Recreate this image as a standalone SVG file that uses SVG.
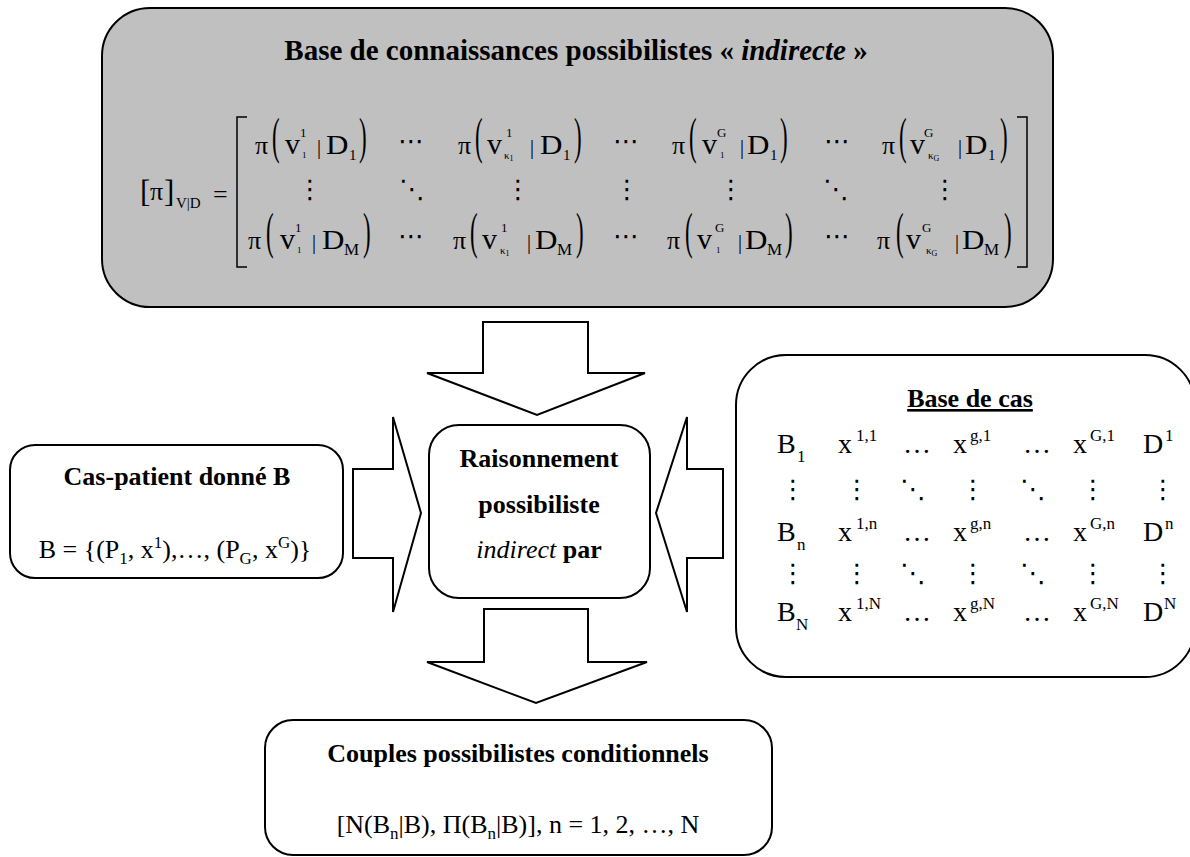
<svg xmlns="http://www.w3.org/2000/svg" width="1190" height="857" viewBox="0 0 1190 857">
<style>
.box{fill:#fff;stroke:#000;stroke-width:2}
.gray{fill:#c0c0c0}
.arr{fill:#fff;stroke:#000;stroke-width:2;stroke-linejoin:miter}
text{font-family:"Liberation Serif","Times New Roman",serif;fill:#000}
.tb{font-weight:bold}
.c{text-anchor:middle}
.m{font-size:26px}
.d{font-size:27px}
.v{font-size:30px}
.sp{font-size:13px}
.sb{font-size:9px}
.bar{font-size:20px}
.sd{font-size:15px}
.sm{font-size:17px}
.pr{font-size:46px}
.dt{font-family:"DejaVu Sans",sans-serif;font-size:26px;text-anchor:middle}
.r{font-size:28px}
.rs{font-size:17px}
</style>
<defs>
<path id="brk" d="M10,0 H0 V150 H10" fill="none" stroke="#000" stroke-width="1.5"/>
</defs>

<g id="connectors">
<polygon class="arr gray" points="483,322 588,322 588,373 645,373 537,415 427,373 483,373"/>
<polygon class="arr" points="484,609 588,609 588,662 647,662 536,703 427,662 484,662"/>
<polygon class="arr" points="353,469 393,469 393,417 421,513 393,612 393,558 353,558"/>
<polygon class="arr" points="723,469 687,469 687,417 656,513 687,612 687,558 723,558"/>
</g>

<g id="kb">
<rect class="box gray" x="102" y="8" width="951" height="299" rx="48"/>
<text class="tb c" x="576" y="60" font-size="29">Base de connaissances possibilistes « <tspan font-style="italic">indirecte</tspan> »</text>
<text x="140" y="202" font-size="31">[</text>
<text class="m" x="150" y="200">π</text>
<text x="164" y="202" font-size="31">]</text>
<text x="176" y="208" font-size="15">V|D</text>
<text class="m" x="213" y="203">=</text>
<use href="#brk" x="237" y="117"/>
<use href="#brk" transform="translate(1027,117) scale(-1,1)"/>

<!-- row 1 -->
<g transform="translate(255,154)">
<text class="m">π</text><text class="pr" transform="translate(17,-1) scale(0.5,1.1)">(</text>
<text class="v" x="30">v</text><text class="sp" x="45" y="-17">1</text><text class="sb" x="47" y="4">1</text>
<text class="bar" x="62">|</text><text class="d" transform="translate(71,0) scale(1.15,1)">D</text><text class="sd" x="94" y="6">1</text>
<text class="pr" transform="translate(104,-1) scale(0.5,1.1)">)</text>
</g>
<g transform="translate(458,154)">
<text class="m">π</text><text class="pr" transform="translate(17,-1) scale(0.5,1.1)">(</text>
<text class="v" x="29">v</text><text class="sp" x="48" y="-17">1</text><text x="46" y="5"><tspan font-size="11">κ</tspan><tspan font-size="8" dy="2">1</tspan></text>
<text class="bar" x="72">|</text><text class="d" transform="translate(82,0) scale(1.15,1)">D</text><text class="sd" x="105" y="6">1</text>
<text class="pr" transform="translate(116,-1) scale(0.5,1.1)">)</text>
</g>
<g transform="translate(672,154)">
<text class="m">π</text><text class="pr" transform="translate(17,-1) scale(0.5,1.1)">(</text>
<text class="v" x="30">v</text><text class="sp" x="45" y="-17">G</text><text class="sb" x="48" y="4">1</text>
<text class="bar" x="68">|</text><text class="d" transform="translate(75,0) scale(1.15,1)">D</text><text class="sd" x="98" y="6">1</text>
<text class="pr" transform="translate(108,-1) scale(0.5,1.1)">)</text>
</g>
<g transform="translate(882,154)">
<text class="m">π</text><text class="pr" transform="translate(17,-1) scale(0.5,1.1)">(</text>
<text class="v" x="28">v</text><text class="sp" x="42" y="-17">G</text><text x="46" y="5"><tspan font-size="11">κ</tspan><tspan font-size="8" dy="2">G</tspan></text>
<text class="bar" x="76">|</text><text class="d" transform="translate(83,0) scale(1.15,1)">D</text><text class="sd" x="106" y="6">1</text>
<text class="pr" transform="translate(118,-1) scale(0.5,1.1)">)</text>
</g>
<text class="dt" x="411" y="150">⋯</text>
<text class="dt" x="626" y="150">⋯</text>
<text class="dt" x="837" y="150">⋯</text>

<!-- row 2 -->
<text class="dt" x="310" y="198">⋮</text>
<text class="dt" x="412" y="198">⋱</text>
<text class="dt" x="518" y="198">⋮</text>
<text class="dt" x="627" y="198">⋮</text>
<text class="dt" x="731" y="198">⋮</text>
<text class="dt" x="836" y="198">⋱</text>
<text class="dt" x="945" y="198">⋮</text>

<!-- row 3 -->
<g transform="translate(248,249)">
<text class="m">π</text><text class="pr" transform="translate(18,-1) scale(0.5,1.1)">(</text>
<text class="v" x="32">v</text><text class="sp" x="47" y="-17">1</text><text class="sb" x="49" y="4">1</text>
<text class="bar" x="64">|</text><text class="d" transform="translate(74,0) scale(1.15,1)">D</text><text class="rs" x="96" y="6">M</text>
<text class="pr" transform="translate(115,-1) scale(0.5,1.1)">)</text>
</g>
<g transform="translate(453,249)">
<text class="m">π</text><text class="pr" transform="translate(17,-1) scale(0.5,1.1)">(</text>
<text class="v" x="29">v</text><text class="sp" x="48" y="-17">1</text><text x="47" y="5"><tspan font-size="11">κ</tspan><tspan font-size="8" dy="2">1</tspan></text>
<text class="bar" x="74">|</text><text class="d" transform="translate(82,0) scale(1.15,1)">D</text><text class="rs" x="104" y="6">M</text>
<text class="pr" transform="translate(123,-1) scale(0.5,1.1)">)</text>
</g>
<g transform="translate(667,249)">
<text class="m">π</text><text class="pr" transform="translate(18,-1) scale(0.5,1.1)">(</text>
<text class="v" x="30">v</text><text class="sp" x="48" y="-17">G</text><text class="sb" x="49" y="4">1</text>
<text class="bar" x="71">|</text><text class="d" transform="translate(78,0) scale(1.15,1)">D</text><text class="rs" x="100" y="6">M</text>
<text class="pr" transform="translate(118,-1) scale(0.5,1.1)">)</text>
</g>
<g transform="translate(877,249)">
<text class="m">π</text><text class="pr" transform="translate(19,-1) scale(0.5,1.1)">(</text>
<text class="v" x="29">v</text><text class="sp" x="45" y="-17">G</text><text x="49" y="5"><tspan font-size="11">κ</tspan><tspan font-size="8" dy="2">G</tspan></text>
<text class="bar" x="78">|</text><text class="d" transform="translate(85,0) scale(1.15,1)">D</text><text class="rs" x="107" y="6">M</text>
<text class="pr" transform="translate(127,-1) scale(0.5,1.1)">)</text>
</g>
<text class="dt" x="411" y="245">⋯</text>
<text class="dt" x="626" y="245">⋯</text>
<text class="dt" x="837" y="245">⋯</text>
</g>

<g id="patient">
<rect class="box" x="10" y="445" width="333" height="133" rx="25"/>
<text class="tb c" x="177" y="485" font-size="26">Cas-patient donné B</text>
<text class="c" x="175" y="558" font-size="26">B = {(P<tspan font-size="17" dy="6">1</tspan><tspan dy="-6">, x</tspan><tspan font-size="17" dy="-10">1</tspan><tspan dy="10">),…, (P</tspan><tspan font-size="17" dy="6">G</tspan><tspan dy="-6">, x</tspan><tspan font-size="17" dy="-10">G</tspan><tspan dy="10">)}</tspan></text>
</g>

<g id="reasoning">
<rect class="box" x="429" y="425" width="221" height="173" rx="30"/>
<text class="tb c" x="539" y="467" font-size="26">Raisonnement</text>
<text class="tb c" x="539" y="513" font-size="26">possibiliste</text>
<text class="c" x="539" y="558" font-size="26"><tspan font-style="italic">indirect</tspan><tspan font-weight="bold"> par</tspan></text>
</g>

<g id="cases">
<rect class="box" x="736" y="355" width="459" height="322" rx="50"/>
<text class="tb c" x="970" y="407" font-size="26" text-decoration="underline">Base de cas</text>
<!-- row 1 -->
<text class="r" x="777" y="453">B</text><text class="rs" x="797" y="462">1</text>
<text class="r" x="838" y="453">x</text><text class="rs" x="856" y="441">1,1</text>
<text class="r" x="903" y="453">…</text>
<text class="r" x="953" y="453">x</text><text class="rs" x="970" y="441">g,1</text>
<text class="r" x="1023" y="453">…</text>
<text class="r" x="1073" y="453">x</text><text class="rs" x="1090" y="441">G,1</text>
<text class="r" x="1143" y="453">D</text><text class="rs" x="1165" y="441">1</text>
<!-- row 2 -->
<text class="dt" x="793" y="498">⋮</text>
<text class="dt" x="857" y="498">⋮</text>
<text class="dt" x="913" y="498">⋱</text>
<text class="dt" x="973" y="498">⋮</text>
<text class="dt" x="1033" y="498">⋱</text>
<text class="dt" x="1093" y="498">⋮</text>
<text class="dt" x="1163" y="498">⋮</text>
<!-- row 3 -->
<text class="r" x="777" y="541">B</text><text class="rs" x="797" y="550">n</text>
<text class="r" x="838" y="541">x</text><text class="rs" x="856" y="529">1,n</text>
<text class="r" x="903" y="541">…</text>
<text class="r" x="953" y="541">x</text><text class="rs" x="970" y="529">g,n</text>
<text class="r" x="1023" y="541">…</text>
<text class="r" x="1073" y="541">x</text><text class="rs" x="1090" y="529">G,n</text>
<text class="r" x="1143" y="541">D</text><text class="rs" x="1165" y="529">n</text>
<!-- row 4 -->
<text class="dt" x="793" y="582">⋮</text>
<text class="dt" x="857" y="582">⋮</text>
<text class="dt" x="913" y="582">⋱</text>
<text class="dt" x="973" y="582">⋮</text>
<text class="dt" x="1033" y="582">⋱</text>
<text class="dt" x="1093" y="582">⋮</text>
<text class="dt" x="1163" y="582">⋮</text>
<!-- row 5 -->
<text class="r" x="777" y="621">B</text><text class="rs" x="796" y="630">N</text>
<text class="r" x="838" y="621">x</text><text class="rs" x="856" y="609">1,N</text>
<text class="r" x="903" y="621">…</text>
<text class="r" x="953" y="621">x</text><text class="rs" x="970" y="609">g,N</text>
<text class="r" x="1023" y="621">…</text>
<text class="r" x="1073" y="621">x</text><text class="rs" x="1090" y="609">G,N</text>
<text class="r" x="1143" y="621">D</text><text class="rs" x="1164" y="609">N</text>
</g>

<g id="couples">
<rect class="box" x="265" y="720" width="507" height="135" rx="28"/>
<text class="tb c" x="518" y="762" font-size="26">Couples possibilistes conditionnels</text>
<text class="c" x="518" y="833" font-size="26">[N(B<tspan font-size="17" dy="6">n</tspan><tspan dy="-6">|B), Π(B</tspan><tspan font-size="17" dy="6">n</tspan><tspan dy="-6">|B)], n = 1, 2, …, N</tspan></text>
</g>
</svg>
